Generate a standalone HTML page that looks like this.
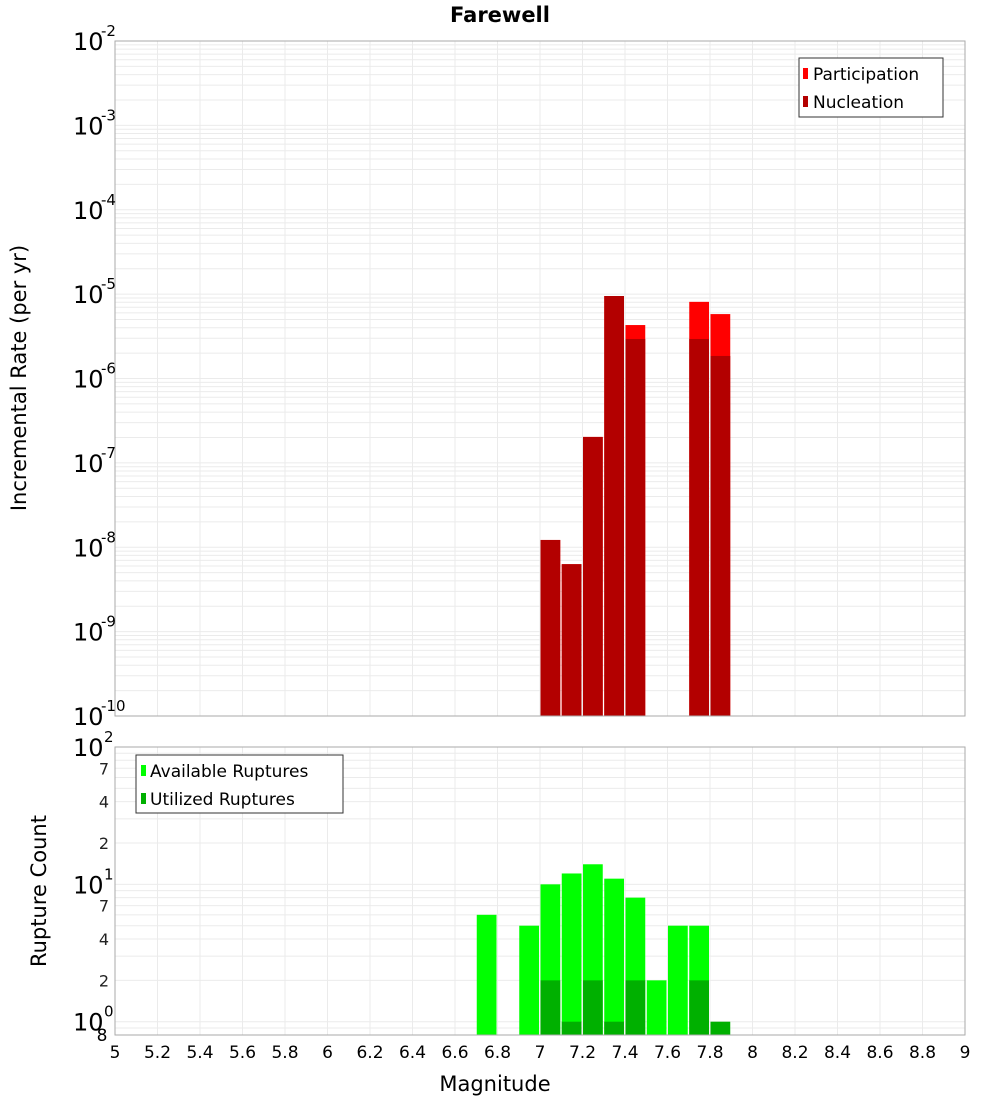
<!DOCTYPE html>
<html><head><meta charset="utf-8"><style>
html,body{margin:0;padding:0;background:#fff;}
svg{display:block;font-family:"DejaVu Sans","Liberation Sans",sans-serif;}
</style></head><body>
<svg id="chart" width="1000" height="1100" viewBox="0 0 1000 1100">
<text x="500" y="22" text-anchor="middle" font-size="21" font-weight="bold">Farewell</text>
<text x="495" y="1091" text-anchor="middle" font-size="21">Magnitude</text>
<text transform="translate(26,378) rotate(-90)" text-anchor="middle" font-size="21">Incremental Rate (per yr)</text>
<text transform="translate(46,891) rotate(-90)" text-anchor="middle" font-size="21">Rupture Count</text>
<g id="grid"></g>
<g id="bars"></g>
<g id="axes"></g>
<g>
<rect x="799" y="58" width="144" height="59" fill="#fff" stroke="#333" stroke-width="1"/>
<rect x="803" y="68" width="5" height="11" fill="#ff0000"/>
<text x="813" y="80" font-size="17">Participation</text>
<rect x="803" y="96" width="5" height="11" fill="#b30000"/>
<text x="813" y="108" font-size="17">Nucleation</text>
</g>
<g>
<rect x="136" y="755" width="207" height="58" fill="#fff" stroke="#333" stroke-width="1"/>
<rect x="141" y="765" width="5" height="11" fill="#00ff00"/>
<text x="150" y="777" font-size="17">Available Ruptures</text>
<rect x="141" y="793" width="5" height="11" fill="#00b000"/>
<text x="150" y="805" font-size="17">Utilized Ruptures</text>
</g>
</svg>
<script>
const mags=[6.75,6.95,7.05,7.15,7.25,7.35,7.45,7.55,7.65,7.75,7.85];
const rateMags=[7.05,7.15,7.25,7.35,7.45,7.75,7.85];
const participation=[1.22e-8,6.3e-9,2.03e-7,9.5e-6,4.3e-6,8.1e-6,5.8e-6];
const nucleation=[1.22e-8,6.3e-9,2.03e-7,9.5e-6,2.94e-6,2.94e-6,1.85e-6];
const available=[6,5,10,12,14,11,8,2,5,5,0];
const utilized=[0,0,2,1,2,1,2,0,0,2,1];
const xTicks=[5,5.2,5.4,5.6,5.8,6,6.2,6.4,6.6,6.8,7,7.2,7.4,7.6,7.8,8,8.2,8.4,8.6,8.8,9];
const topDecades=[-2,-3,-4,-5,-6,-7,-8,-9,-10];
const botMinor=[2,4,7,20,40,70];
const botMinorLabels=["2","4","7","2","4","7"];

const NS="http://www.w3.org/2000/svg";
const X0=115,X1=965;
const x=m=>X0+(m-5)/4*(X1-X0);
const T0=41,T1=716;
const yT=v=>T0+(-2-Math.log10(v))/8*(T1-T0);
const B0=747,B1=1035,bLo=Math.log10(0.8),bHi=2;
const yB=v=>B1-(Math.log10(v)-bLo)/(bHi-bLo)*(B1-B0);
function mk(tag,a,p){const e=document.createElementNS(NS,tag);for(const k in a)e.setAttribute(k,a[k]);p.appendChild(e);return e;}
const grid=document.getElementById('grid'),bars=document.getElementById('bars'),axes=document.getElementById('axes');
const gc="#ebebeb";
// grids
xTicks.forEach(t=>{const g1=mk('line',{x1:x(t),x2:x(t),y1:T0,y2:T1,stroke:gc},grid);

const g2=mk('line',{x1:x(t),x2:x(t),y1:B0,y2:B1,stroke:gc},grid);
});
for(let d=-10;d<-2;d++){for(let k=1;k<10;k++){const v=k*Math.pow(10,d);const yy=yT(v);
const l=mk('line',{x1:X0,x2:X1,y1:yy,y2:yy,stroke:gc},grid);
}}
for(let d=-1;d<2;d++){for(let k=1;k<10;k++){const v=k*Math.pow(10,d);if(v<0.8)continue;const yy=yB(v);
const l=mk('line',{x1:X0,x2:X1,y1:yy,y2:yy,stroke:gc},grid);
}}
// top bars
const bw=x(5.1)-x(5);
rateMags.forEach((m,i)=>{
const p=mk('rect',{x:x(m)-bw/2+0.5,width:bw-1.5,y:yT(participation[i]),height:T1-yT(participation[i]),fill:'#ff0000'},bars);

const n=mk('rect',{x:x(m)-bw/2+0.5,width:bw-1.5,y:yT(nucleation[i]),height:T1-yT(nucleation[i]),fill:'#b30000'},bars);
});
mags.forEach((m,i)=>{
if(available[i]>0){const a=mk('rect',{x:x(m)-bw/2+0.5,width:bw-1.5,y:yB(available[i]),height:B1-yB(available[i]),fill:'#00ff00'},bars);
}
if(utilized[i]>0){const u=mk('rect',{x:x(m)-bw/2+0.5,width:bw-1.5,y:yB(utilized[i]),height:B1-yB(utilized[i]),fill:'#00b000'},bars);
}});
// frames
const f1=mk('rect',{x:X0,y:T0,width:X1-X0,height:T1-T0,fill:'none',stroke:'#aaa'},axes);

const f2=mk('rect',{x:X0,y:B0,width:X1-X0,height:B1-B0,fill:'none',stroke:'#aaa'},axes);

// top y labels
topDecades.forEach(d=>{const yy=yT(Math.pow(10,d));
const t=mk('text',{x:73,y:yy+9,'font-size':24},axes);t.textContent='10';

const s=mk('text',{x:101,y:yy-5,'font-size':15},axes);s.textContent=String(d);
});
// bottom y labels
[0,1,2].forEach(d=>{const yy=yB(Math.pow(10,d));
const t=mk('text',{x:73,y:yy+9,'font-size':24},axes);t.textContent='10';

const s=mk('text',{x:104,y:yy-5,'font-size':15},axes);s.textContent=String(d);
});
botMinor.forEach((v,i)=>{const t=mk('text',{x:104,y:yB(v)+6,'font-size':16,'text-anchor':'middle',fill:'#222'},axes);t.textContent=botMinorLabels[i];
});
{const t=mk('text',{x:102,y:1041,'font-size':17,'text-anchor':'middle'},axes);t.textContent='8';
}
xTicks.forEach(t=>{const e=mk('text',{x:x(t),y:1058,'font-size':17,'text-anchor':'middle'},axes);e.textContent=String(t);
});
</script>
</body></html>
